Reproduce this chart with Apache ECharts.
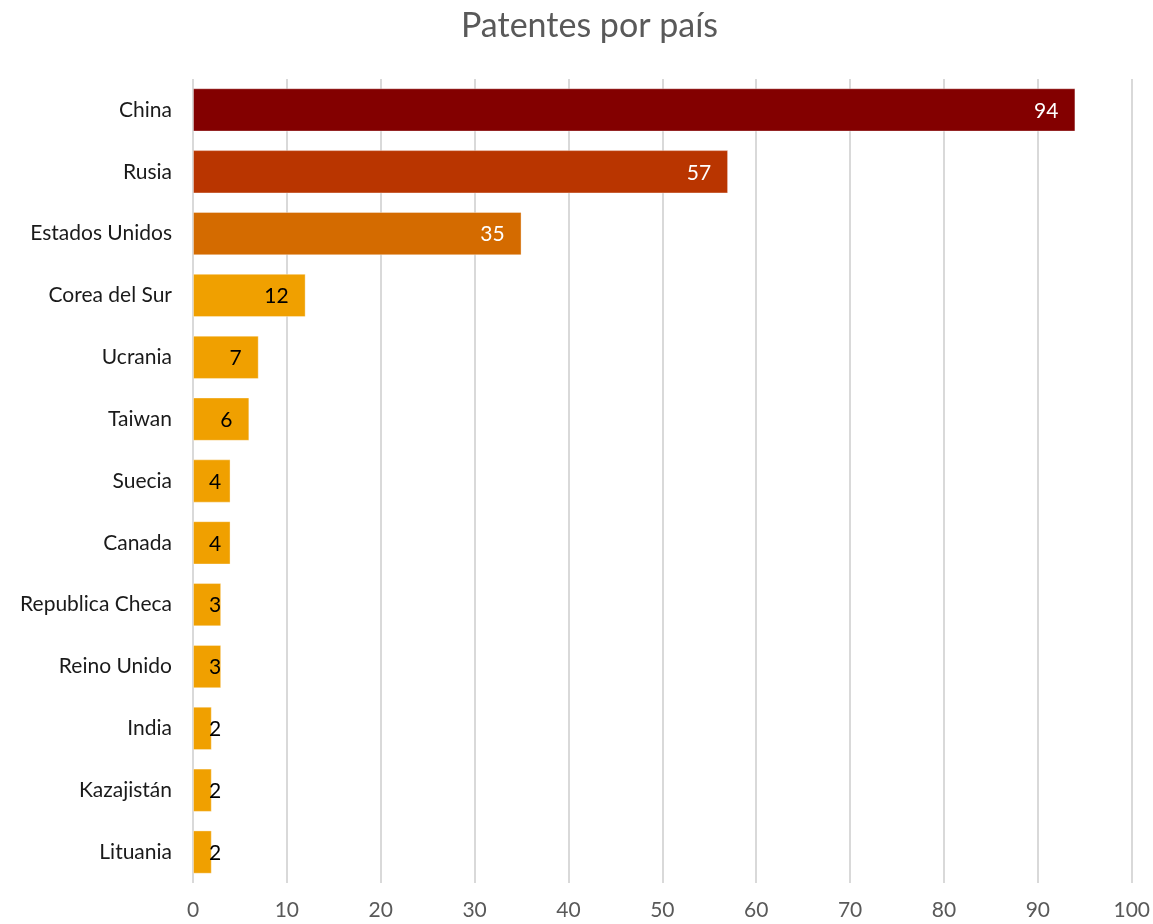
<!DOCTYPE html>
<html>
<head>
<meta charset="utf-8">
<title>Patentes por país</title>
<script src="https://cdn.jsdelivr.net/npm/echarts@6/dist/echarts.min.js"></script>
<style>
  html, body { margin: 0; padding: 0; background: #ffffff; }
  #chart { width: 1153px; height: 924px; }
</style>
</head>
<body>
<div id="chart"></div>
<script>
// Countries, top to bottom
const countries = [
  'China', 'Rusia', 'Estados Unidos', 'Corea del Sur', 'Ucrania', 'Taiwan',
  'Suecia', 'Canada', 'Republica Checa', 'Reino Unido', 'India', 'Kazajistán', 'Lituania'
];
// Number of patents per country
const patents = [94, 57, 35, 12, 7, 6, 4, 4, 3, 3, 2, 2, 2];
// Fill colour per bar
const barColors = [
  '#830000', '#B93500', '#D46B00', '#F0A000', '#F0A000', '#F0A000',
  '#F0A000', '#F0A000', '#F0A000', '#F0A000', '#F0A000', '#F0A000', '#F0A000'
];
// Value label colour per bar
const labelColors = [
  '#ffffff', '#ffffff', '#ffffff', '#000000', '#000000', '#000000',
  '#000000', '#000000', '#000000', '#000000', '#000000', '#000000', '#000000'
];
const axisTicks = [0, 10, 20, 30, 40, 50, 60, 70, 80, 90, 100];

const FONT = 'Lato, "Open Sans", sans-serif';

const chart = echarts.init(document.getElementById('chart'), null, { renderer: 'canvas' });

chart.setOption({
  animation: false,
  backgroundColor: '#ffffff',
  title: {
    text: 'Patentes por país',
    left: 456,
    top: 4,
    textStyle: { fontFamily: FONT, fontSize: 34, fontWeight: 'normal', color: '#595959' }
  },
  grid: { left: 193, right: 21, top: 79, bottom: 41, containLabel: false },
  xAxis: {
    type: 'value',
    min: axisTicks[0],
    max: axisTicks[axisTicks.length - 1],
    interval: axisTicks[1] - axisTicks[0],
    axisLine: { show: false },
    axisTick: { show: false },
    axisLabel: { fontFamily: FONT, fontSize: 21, color: '#595959', margin: 17 },
    splitLine: { show: true, lineStyle: { color: '#d9d9d9', width: 2 } }
  },
  yAxis: {
    type: 'category',
    inverse: true,
    data: countries,
    axisLine: { show: false },
    axisTick: { show: false },
    axisLabel: { fontFamily: FONT, fontSize: 21, color: '#1a1a1a', margin: 21 }
  },
  series: [{
    type: 'bar',
    barCategoryGap: '30%',
    data: patents.map((v, i) => ({
      value: v,
      itemStyle: { color: barColors[i], borderColor: 'rgba(255,255,255,0.35)', borderWidth: 1 },
      label: { color: labelColors[i] }
    })),
    label: {
      show: true,
      position: 'insideRight',
      fontFamily: FONT,
      fontSize: 21
    },
    // Value labels sit inside the bar end; on short bars they stay a fixed
    // inset from the bar start and may run past the bar end.
    labelLayout: function (p) {
      const barStart = p.rect.x;
      const barEnd = p.rect.x + p.rect.width;
      const right = Math.max(barEnd - 17, barStart + 16 + p.labelRect.width);
      return {
        x: right,
        y: p.rect.y + p.rect.height / 2 + 1,
        align: 'right',
        verticalAlign: 'middle'
      };
    }
  }]
});
</script>
</body>
</html>
